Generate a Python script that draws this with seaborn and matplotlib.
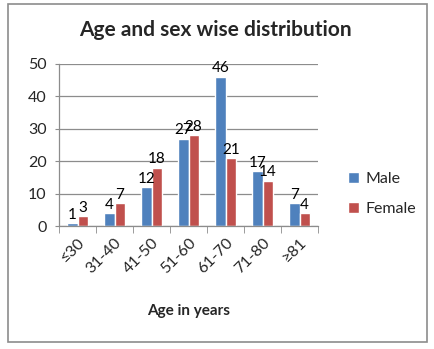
import matplotlib
matplotlib.use("Agg")
import matplotlib.pyplot as plt
import seaborn as sns
import pandas as pd
from matplotlib.patches import Rectangle

categories = ["≤30", "31-40", "41-50", "51-60", "61-70", "71-80", "≥81"]
male = [1, 4, 12, 27, 46, 17, 7]
female = [3, 7, 18, 28, 21, 14, 4]
series_names = ["Male", "Female"]
yticks = [0, 10, 20, 30, 40, 50]

df = pd.DataFrame({
    "Age": categories * 2,
    "Count": male + female,
    "Sex": [series_names[0]] * len(categories) + [series_names[1]] * len(categories),
})

sns.set_style("white")
plt.rcParams["font.family"] = ["Lato", "DejaVu Sans"]

fig = plt.figure(figsize=(4.34, 3.49), dpi=100)
ax = fig.add_axes([0.136, 0.352, 0.597, 0.465])

sns.barplot(data=df, x="Age", y="Count", hue="Sex", order=categories,
            hue_order=series_names, palette=["#4F81BD", "#C0504D"],
            width=0.55, saturation=1, ax=ax, legend=True)

for cont in ax.containers:
    ax.bar_label(cont, fontsize=11, padding=1, color="#000000")

ax.set_ylim(0, 50)
ax.set_yticks(yticks)
ax.set_xlim(-0.5, len(categories) - 0.5)
ax.yaxis.grid(True, color="#8C8C8C", linewidth=0.9)
ax.set_axisbelow(True)
for s in ["top", "right"]:
    ax.spines[s].set_visible(False)
for s in ["left", "bottom"]:
    ax.spines[s].set_color("#8C8C8C")
    ax.spines[s].set_linewidth(0.9)

ax.tick_params(axis="y", labelsize=11.5, length=3, color="#8C8C8C", left=True, pad=6)
ax.tick_params(axis="x", which="major", length=0, labelsize=11.5, pad=7)
ax.set_xticks([i - 0.5 for i in range(len(categories) + 1)], minor=True)
ax.tick_params(axis="x", which="minor", length=5, color="#8C8C8C", bottom=True)
plt.setp(ax.get_xticklabels(), rotation=45, ha="right", rotation_mode="anchor")

ax.set_ylabel("")
ax.set_xlabel("Age in years", fontsize=11, fontweight="bold", labelpad=20)
fig.text(0.497, 0.915, "Age and sex wise distribution", fontsize=15,
         fontweight="bold", ha="center", va="center")

leg = ax.legend(loc="center left", bbox_to_anchor=(1.06, 0.2), frameon=False,
                fontsize=11.5, handlelength=0.7, handleheight=0.7, labelspacing=1.0,
                handletextpad=0.4)

fig.patches.append(Rectangle((0.018, 0.02), 0.966, 0.968, transform=fig.transFigure,
                             fill=False, edgecolor="#8C8C8C", linewidth=1.2))

fig.savefig("out.png", dpi=100)
